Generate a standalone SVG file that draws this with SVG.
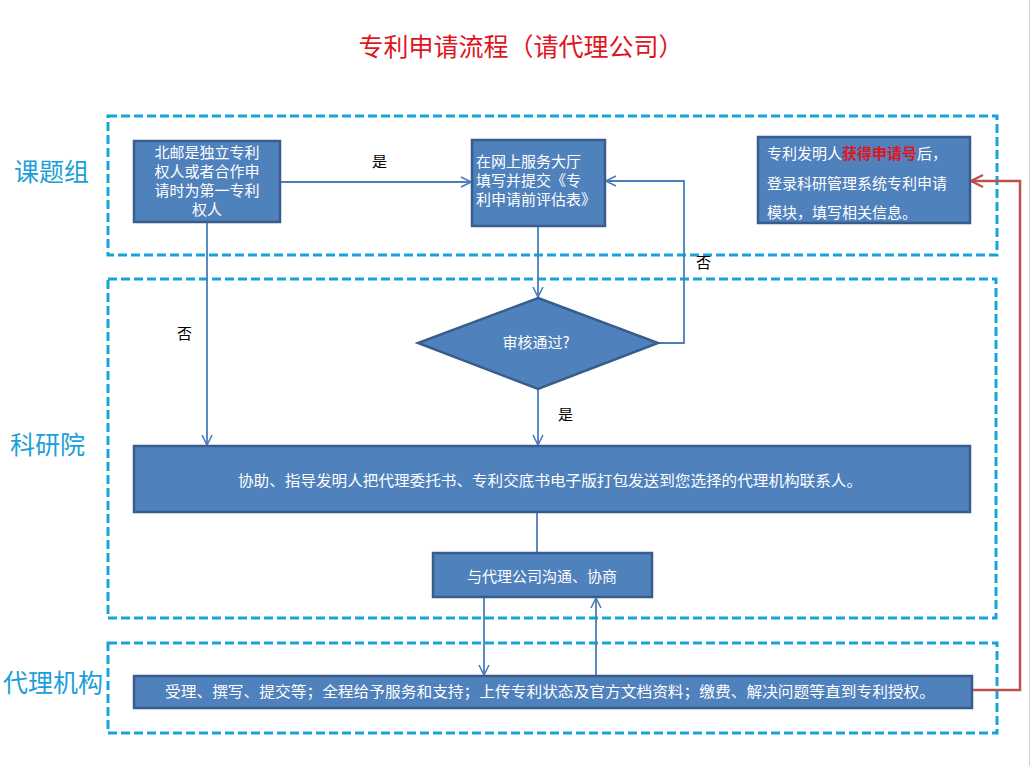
<svg xmlns="http://www.w3.org/2000/svg" width="1031" height="766" viewBox="0 0 1031 766">
<defs>
<style>
.lane{fill:none;stroke:#14A3DA;stroke-width:3;stroke-dasharray:9,4}
.lbl{font-family:"Noto Sans CJK SC",sans-serif;font-size:25px;fill:#1AA0D8}
.box{fill:#4F81BD;stroke:#385D8A;stroke-width:2.5}
.t{font-family:"Noto Sans CJK SC",sans-serif;font-size:15px;fill:#FFFFFF}
.c{stroke:#4A7EBB;stroke-width:1.8;fill:none}
.cl{font-family:"Noto Sans CJK SC",sans-serif;font-size:15px;fill:#000000}
</style>
<marker id="ah" viewBox="0 0 12 12" refX="11" refY="6" markerWidth="12" markerHeight="12" markerUnits="userSpaceOnUse" orient="auto">
<path d="M1,1 L11,6 L1,11" fill="none" stroke="#4A7EBB" stroke-width="1.6"/>
</marker>
<marker id="ahr" viewBox="0 0 14 14" refX="13" refY="7" markerWidth="14" markerHeight="14" markerUnits="userSpaceOnUse" orient="auto">
<path d="M1,1 L13,7 L1,13" fill="none" stroke="#C0504D" stroke-width="2.2"/>
</marker>
</defs>
<rect width="1031" height="766" fill="#FFFFFF"/>
<line x1="1029.5" y1="0" x2="1029.5" y2="766" stroke="#D0D0D0" stroke-width="1"/>
<text x="521" y="56" text-anchor="middle" font-family="Noto Sans CJK SC,sans-serif" font-size="25" fill="#E0141E">专利申请流程（请代理公司）</text>

<g id="lanes">
<rect class="lane" x="108" y="116" width="889" height="139"/>
<rect class="lane" x="108" y="279" width="888" height="339"/>
<rect class="lane" x="108" y="643" width="889" height="90"/>
<text class="lbl" x="14" y="181">课题组</text>
<text class="lbl" x="10" y="454">科研院</text>
<text class="lbl" x="3" y="692">代理机构</text>
</g>

<g id="connectors">
<line class="c" x1="281" y1="182" x2="471" y2="182" marker-end="url(#ah)"/>
<line class="c" x1="207" y1="223" x2="207" y2="445" marker-end="url(#ah)"/>
<line class="c" x1="538" y1="227" x2="538" y2="297" marker-end="url(#ah)"/>
<polyline class="c" points="658,343 684,343 684,181 606,181" marker-end="url(#ah)"/>
<line class="c" x1="538" y1="389" x2="538" y2="445" marker-end="url(#ah)"/>
<line class="c" x1="537" y1="513" x2="537" y2="553"/>
<line class="c" x1="484" y1="598" x2="484" y2="675" marker-end="url(#ah)"/>
<line class="c" x1="596" y1="676" x2="596" y2="598" marker-end="url(#ah)"/>
<polyline points="973,690 1020,690 1020,181 971,181" fill="none" stroke="#C0504D" stroke-width="2.5" marker-end="url(#ahr)"/>
<text class="cl" x="372" y="167">是</text>
<text class="cl" x="177" y="339">否</text>
<text class="cl" x="696" y="268">否</text>
<text class="cl" x="558" y="420">是</text>
</g>

<g id="nodeA">
<rect class="box" x="134" y="141" width="146" height="81"/>
<text class="t" text-anchor="middle" font-size="14.5"><tspan x="207" y="158">北邮是独立专利</tspan><tspan x="207" y="177">权人或者合作申</tspan><tspan x="207" y="196">请时为第一专利</tspan><tspan x="207" y="215">权人</tspan></text>
</g>

<g id="nodeB">
<rect class="box" x="472" y="140" width="133" height="86"/>
<text class="t" font-size="14.5"><tspan x="476" y="167">在网上服务大厅</tspan><tspan x="476" y="186">填写并提交《专</tspan><tspan x="476" y="205">利申请前评估表》</tspan></text>
</g>

<g id="nodeC">
<rect class="box" x="758" y="137" width="212" height="86"/>
<text class="t"><tspan x="767" y="159">专利发明人<tspan fill="#E0141E" font-weight="bold">获得申请号</tspan>后，</tspan><tspan x="767" y="189">登录科研管理系统专利申请</tspan><tspan x="767" y="218">模块，填写相关信息。</tspan></text>
</g>

<g id="nodeDiamond">
<polygon class="box" points="538,298 658,343 538,389 418,343"/>
<text class="t" x="536" y="348" text-anchor="middle">审核通过?</text>
</g>

<g id="nodeD">
<rect class="box" x="134" y="446" width="836" height="66"/>
<text class="t" x="550" y="486" text-anchor="middle" textLength="624" lengthAdjust="spacingAndGlyphs">协助、指导发明人把代理委托书、专利交底书电子版打包发送到您选择的代理机构联系人。</text>
</g>

<g id="nodeE">
<rect class="box" x="433" y="553" width="219" height="44"/>
<text class="t" x="542" y="582" text-anchor="middle">与代理公司沟通、协商</text>
</g>

<g id="nodeF">
<rect class="box" x="134" y="676" width="838" height="32"/>
<text class="t" x="550" y="697" text-anchor="middle" textLength="770" lengthAdjust="spacingAndGlyphs">受理、撰写、提交等；全程给予服务和支持；上传专利状态及官方文档资料；缴费、解决问题等直到专利授权。</text>
</g>
</svg>
